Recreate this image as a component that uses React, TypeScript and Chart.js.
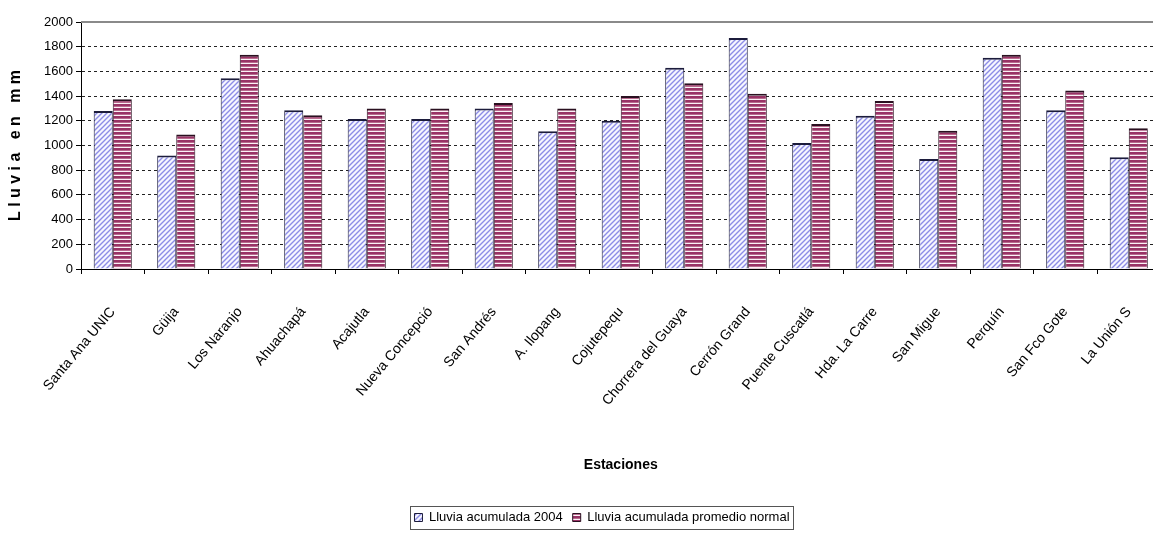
import React, { useEffect, useRef } from 'react';
import { Chart, registerables } from 'chart.js';

Chart.register(...registerables);

const categories = [
  'Santa Ana UNIC',
  'Güija',
  'Los Naranjo',
  'Ahuachapá',
  'Acajutla',
  'Nueva Concepció',
  'San Andrés',
  'A. Ilopang',
  'Cojutepequ',
  'Chorrera del Guaya',
  'Cerrón Grand',
  'Puente Cuscatlá',
  'Hda. La Carre',
  'San Migue',
  'Perquín',
  'San Fco Gote',
  'La Unión S',
];

const lluvia2004 = [1280, 920, 1545, 1285, 1215, 1215, 1300, 1115, 1200, 1630, 1870, 1020, 1240, 890, 1710, 1285, 905];
const lluviaPromedio = [1375, 1090, 1735, 1245, 1300, 1300, 1345, 1300, 1400, 1505, 1420, 1175, 1360, 1120, 1735, 1445, 1140];

const seriesNames = ['Lluvia acumulada 2004', 'Lluvia acumulada promedio normal'];
const yMin = 0;
const yMax = 2000;
const yStep = 200;
const yTitle = 'L l u v i a   e n   m m';
const xTitle = 'Estaciones';

const FONT = "'Liberation Sans', Arial, sans-serif";
const LEGEND_SIZE = 13;
const LEGEND_BOX = 8;
const LEGEND_PAD = 10;

function makeDiagonal(): CanvasPattern | string {
  const s = 5;
  const c = document.createElement('canvas');
  c.width = s;
  c.height = s;
  const g = c.getContext('2d');
  if (!g) return '#9999ee';
  g.fillStyle = '#f6f6ff';
  g.fillRect(0, 0, s, s);
  g.strokeStyle = '#8c8ce6';
  g.lineWidth = 1.4;
  g.beginPath();
  g.moveTo(-1, s + 1);
  g.lineTo(s + 1, -1);
  g.moveTo(-2, 2);
  g.lineTo(2, -2);
  g.moveTo(s - 2, s + 2);
  g.lineTo(s + 2, s - 2);
  g.stroke();
  const p = g.createPattern(c, 'repeat');
  return p || '#9999ee';
}

function makeStripes(): CanvasPattern | string {
  const c = document.createElement('canvas');
  c.width = 4;
  c.height = 4;
  const g = c.getContext('2d');
  if (!g) return '#993366';
  g.fillStyle = '#fbf2f6';
  g.fillRect(0, 0, 4, 4);
  g.fillStyle = '#993366';
  g.fillRect(0, 0, 4, 2);
  g.fillStyle = '#b86a8e';
  g.fillRect(0, 2, 4, 1);
  const p = g.createPattern(c, 'repeat');
  return p || '#993366';
}

const framePlugin = {
  id: 'frameAndLegendBox',
  afterLayout(chart: any) {
    const lg = chart.legend;
    if (lg) {
      lg.left = 0;
      lg.right = chart.width;
      lg.width = chart.width;
      if (typeof lg.adjustHitBoxes === 'function') lg.adjustHitBoxes();
    }
  },
  beforeDatasetsDraw(chart: any) {
    const { ctx, chartArea } = chart;
    ctx.save();
    ctx.strokeStyle = '#8a8a8a';
    ctx.lineWidth = 2;
    ctx.beginPath();
    ctx.moveTo(chartArea.left, chartArea.top);
    ctx.lineTo(chartArea.right, chartArea.top);
    ctx.stroke();
    ctx.restore();
  },
  afterDraw(chart: any) {
    const lg = chart.legend;
    if (!lg) return;
    const ctx = chart.ctx;
    ctx.save();
    ctx.font = `${LEGEND_SIZE}px ${FONT}`;
    let sum = 0;
    const names = chart.data.datasets.map((d: any) => d.label);
    for (const n of names) sum += LEGEND_BOX + LEGEND_SIZE / 2 + ctx.measureText(n).width;
    const total = sum + LEGEND_PAD * (names.length - 1);
    const W = chart.width;
    const start = (W + LEGEND_PAD - sum - names.length * LEGEND_PAD) / 2;
    const cy = lg.top + LEGEND_PAD + LEGEND_SIZE / 2;
    const x0 = Math.round(start - 4) + 0.5;
    const y0 = Math.round(cy - 12) + 0.5;
    ctx.strokeStyle = '#555';
    ctx.lineWidth = 1;
    ctx.strokeRect(x0, y0, Math.round(total + 8), 23);
    ctx.restore();
  },
};

export default function App() {
  const ref = useRef<HTMLCanvasElement>(null);

  useEffect(() => {
    const canvas = ref.current;
    if (!canvas) return;
    const diag = makeDiagonal();
    const stripes = makeStripes();
    const chart = new Chart(canvas, {
      type: 'bar',
      data: {
        labels: categories,
        datasets: [
          {
            label: seriesNames[0],
            data: lluvia2004,
            backgroundColor: diag as any,
            borderColor: '#1c1c3c',
            borderWidth: { top: 2, left: 1, right: 1, bottom: 0 } as any,
            barPercentage: 1,
            categoryPercentage: 0.6,
          },
          {
            label: seriesNames[1],
            data: lluviaPromedio,
            backgroundColor: stripes as any,
            borderColor: '#2a1020',
            borderWidth: { top: 2, left: 1, right: 1, bottom: 0 } as any,
            barPercentage: 1,
            categoryPercentage: 0.6,
          },
        ],
      },
      options: {
        animation: false,
        responsive: false,
        devicePixelRatio: 1,
        layout: { padding: { top: 22, right: 43.5, bottom: 3, left: 0 } },
        plugins: {
          tooltip: { enabled: false },
          legend: {
            position: 'bottom',
            align: 'center',
            labels: {
              boxWidth: LEGEND_BOX,
              boxHeight: LEGEND_BOX,
              padding: LEGEND_PAD,
              color: '#000',
              font: { family: FONT, size: LEGEND_SIZE },
            },
          },
        },
        scales: {
          x: {
            type: 'category',
            offset: true,
            afterFit: (scale: any) => {
              scale.height = 232;
            },
            grid: {
              display: true,
              offset: true,
              drawOnChartArea: false,
              drawTicks: true,
              tickLength: 5,
              tickColor: '#000',
              tickWidth: 1,
            },
            border: { display: true, color: '#000', width: 1 },
            ticks: {
              autoSkip: false,
              minRotation: 50,
              maxRotation: 50,
              padding: 30,
              color: '#000',
              font: { family: FONT, size: 14 },
            },
            title: {
              display: true,
              text: xTitle,
              color: '#000',
              font: { family: FONT, size: 14, weight: 'bold' },
              padding: { top: 0, bottom: 27.6 },
            },
          },
          y: {
            type: 'linear',
            min: yMin,
            max: yMax,
            afterFit: (scale: any) => {
              scale.width = 81;
            },
            ticks: {
              stepSize: yStep,
              padding: 3,
              color: '#000',
              font: { family: FONT, size: 13 },
              callback: (v: any) => String(v),
            },
            grid: {
              display: true,
              drawOnChartArea: true,
              drawTicks: true,
              tickLength: 5,
              tickColor: '#000',
              tickWidth: 1,
              lineWidth: 1,
              color: (ctx: any) => {
                const v = ctx.tick ? ctx.tick.value : null;
                if (v === yMin || v === yMax) return 'rgba(0,0,0,0)';
                return '#222';
              },
            },
            border: { display: true, color: '#000', width: 1, dash: [3, 3] },
            title: {
              display: true,
              text: yTitle,
              color: '#000',
              font: { family: FONT, size: 16, weight: 'bold' },
              padding: { top: 6, bottom: 0 },
            },
          },
        },
      },
      plugins: [framePlugin],
    });
    return () => chart.destroy();
  }, []);

  return (
    <div
      style={{
        position: 'fixed',
        left: 0,
        top: 0,
        width: 1153,
        height: 537,
        overflow: 'hidden',
        background: '#fff',
      }}
    >
      <canvas ref={ref} width={1204} height={537} style={{ display: 'block', width: 1204, height: 537 }} />
    </div>
  );
}
